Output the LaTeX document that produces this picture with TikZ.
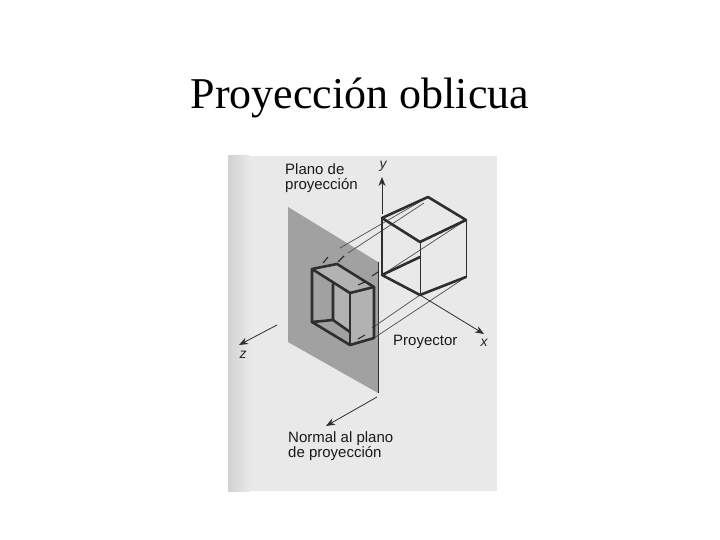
\documentclass[tikz,border=0pt]{standalone}
\usepackage{fontspec}
\setmainfont{Liberation Serif}
\newfontfamily\lblfont{Liberation Sans}
\usetikzlibrary{arrows.meta}
\definecolor{ink}{gray}{0.18}
\definecolor{pagegray}{gray}{0.915}
\definecolor{stripegray}{gray}{0.82}
\definecolor{planegray}{gray}{0.63}
\definecolor{facegray}{gray}{0.70}
\tikzset{
  thick edge/.style={draw=ink,line width=2.6pt,line cap=round,line join=round},
  mid edge/.style={draw=ink,line width=1.6pt,line cap=round},
  thin edge/.style={draw=ink,line width=1pt},
  proj/.style={draw=ink!85,line width=0.7pt},
  dashpiece/.style={draw=ink,line width=1.1pt},
  axis/.style={draw=ink,line width=0.8pt,-{Stealth[length=9pt,width=7pt]}},
  lbl/.style={font=\lblfont\fontsize{15}{15}\selectfont,text=black!90,inner sep=0pt,anchor=base west},
  axlbl/.style={font=\lblfont\itshape\fontsize{14}{14}\selectfont,text=black!85,inner sep=0pt},
}
\begin{document}
\begin{tikzpicture}[x=1pt,y=-1pt]
\useasboundingbox (0,0) rectangle (720,540);
\fill[white] (0,0) rectangle (720,540);
\node[inner sep=0pt,font=\fontsize{44}{44}\selectfont] (title) at (360,98) {Proyección oblicua};
% page scan
\fill[pagegray] (228,156) rectangle (497,491);
\shade[left color=stripegray,right color=pagegray] (228,156) rectangle (250,491);
% projection plane
\coordinate (p1) at (288,207);
\coordinate (p2) at (378,262);
\coordinate (p3) at (378,393);
\coordinate (p4) at (288,342);
\fill[planegray] (p1)--(p2)--(p3)--(p4)--cycle;
\draw[ink,line width=0.6pt] (p2)--(p3);
% small box vertices
\coordinate (a) at (312,269);
\coordinate (b) at (337,264);
\coordinate (c) at (374,287);
\coordinate (d) at (350,293);
\coordinate (e) at (312,322);
\coordinate (f) at (350,345);
\coordinate (g) at (374,338);
\coordinate (h) at (333,284);
\coordinate (i) at (333,320);
\coordinate (j) at (350,332);
\fill[facegray] (d)--(c)--(g)--(f)--cycle;
\fill[facegray] (a)--(b)--(c)--(d)--cycle;
\fill[facegray] (h)--(d)--(j)--(i)--cycle;
% large cube vertices
\coordinate (A) at (428,197);
\coordinate (B) at (466,220);
\coordinate (C) at (420,242);
\coordinate (D) at (382,218);
\coordinate (E) at (382,275);
\coordinate (F) at (420,295);
\coordinate (G) at (466,277);
\coordinate (H) at (420,257);
% projectors
\coordinate (q1) at (340,248);
\coordinate (q2) at (348,253);
\coordinate (q3) at (424,203);
\draw[proj] (A)--(q1);
\draw[proj] (q3)--(q2);
\coordinate (r1) at (328,257);
\coordinate (r2) at (323,263);
\coordinate (r3) at (344,256);
\coordinate (r4) at (338,262);
\draw[dashpiece] (r1)--(r2);
\draw[dashpiece] (r3)--(r4);
\coordinate (s1) at (378,272);
\coordinate (s2) at (372,276);
\coordinate (s3) at (365,282);
\coordinate (s4) at (358,285);
\draw[proj] (B)--(E);
\draw[dashpiece] (s1)--(s2);
\draw[dashpiece] (s3)--(s4);
\coordinate (t1) at (372,328);
\coordinate (t2) at (365,335);
\coordinate (t3) at (358,339);
\draw[proj] (F)--(t1);
\draw[proj] (G)--(g);
\draw[dashpiece] (t2)--(t3);
% small box edges
\draw[thick edge] (e)--(a)--(d)--(c)--(b)--(a);
\draw[thick edge] (e)--(f)--(g)--(c);
\draw[thick edge] (d)--(f);
\draw[thick edge] (h)--(i)--(j);
\draw[thick edge] (e)--(i);
% large cube edges
\draw[thick edge] (D)--(A)--(B)--(C)--(D);
\draw[mid edge] (D)--(E);
\draw[thick edge] (E)--(F)--(G);
\draw[thin edge] (C)--(F);
\draw[thin edge] (B)--(G);
\draw[thick edge] (E)--(H);
% axes
\coordinate (y0) at (382,214);
\coordinate (y1) at (382,177);
\coordinate (x0) at (F);
\coordinate (x1) at (484,334);
\coordinate (z0) at (277,325);
\coordinate (z1) at (239,345);
\coordinate (n0) at (377,397);
\coordinate (n1) at (326,426);
\draw[axis] (y0)--(y1);
\draw[axis] (x0)--(x1);
\draw[axis] (z0)--(z1);
\draw[axis] (n0)--(n1);
\node[axlbl] (ly) at (383,166) {y};
\node[axlbl] (lx) at (484,343) {x};
\node[axlbl] (lz) at (243,355) {z};
% labels
\node[lbl] (l1) at (285,175) {Plano de};
\node[lbl] (l2) at (285,190) {proyección};
\node[lbl] (l3) at (393,345) {Proyector};
\node[lbl] (l4) at (288,442) {Normal al plano};
\node[lbl] (l5) at (288,457) {de proyección};
\end{tikzpicture}
\end{document}
